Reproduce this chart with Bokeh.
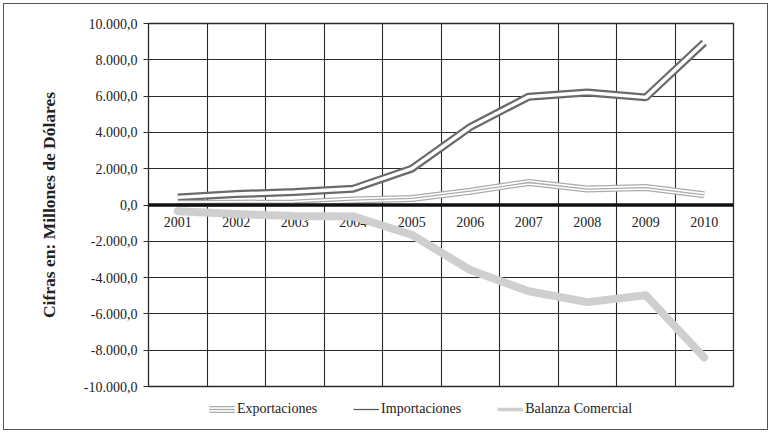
from bokeh.plotting import figure
from bokeh.models import (FixedTicker, Span, Legend, LegendItem, ColumnDataSource)
from bokeh.layouts import column
from bokeh.core.properties import value
from bokeh.embed import file_html
from bokeh.resources import INLINE

years = [2001, 2002, 2003, 2004, 2005, 2006, 2007, 2008, 2009, 2010]
exportaciones = [80, 100, 110, 270, 360, 760, 1240, 880, 960, 560]
importaciones = [420, 600, 720, 900, 2000, 4300, 5970, 6200, 5930, 8950]
balanza = [-340, -500, -610, -630, -1640, -3580, -4750, -5350, -4970, -8400]
y_ticks = [-10000, -8000, -6000, -4000, -2000, 0, 2000, 4000, 6000, 8000, 10000]
y_tick_labels = ["-10.000,0", "-8.000,0", "-6.000,0", "-4.000,0", "-2.000,0", "0,0",
                 "2.000,0", "4.000,0", "6.000,0", "8.000,0", "10.000,0"]
year_labels = [str(y) for y in years]

FONT = "Liberation Serif"
GRID = "#2a2a2a"

p = figure(width=763, height=392, output_backend="svg", toolbar_location=None,
           x_range=(2000.5, 2010.5), y_range=(-10000, 10000),
           min_border_left=144, min_border_top=19, min_border_right=34, min_border_bottom=10,
           background_fill_color="white", border_fill_color="white")
p.outline_line_color = GRID
p.outline_line_width = 1.3

p.xaxis.visible = False
p.xgrid.ticker = FixedTicker(ticks=[y - 0.5 for y in years] + [years[-1] + 0.5])
p.xgrid.grid_line_color = GRID
p.xgrid.grid_line_width = 1.1

p.yaxis.ticker = FixedTicker(ticks=y_ticks)
p.yaxis.major_label_overrides = {t: l for t, l in zip(y_ticks, y_tick_labels)}
p.yaxis.axis_line_color = GRID
p.yaxis.major_tick_line_color = GRID
p.yaxis.major_tick_out = 5
p.yaxis.major_tick_in = 0
p.yaxis.minor_tick_line_color = None
p.yaxis.major_label_text_font = FONT
p.yaxis.major_label_text_font_size = "14px"
p.yaxis.major_label_text_color = "#222"
p.yaxis.major_label_standoff = 6
p.yaxis.axis_label = "Cifras en: Millones de Dólares"
p.yaxis.axis_label_text_font = FONT
p.yaxis.axis_label_text_font_style = "bold"
p.yaxis.axis_label_text_font_size = "17.5px"
p.yaxis.axis_label_text_color = "#222"
p.yaxis.axis_label_standoff = 22
p.ygrid.ticker = FixedTicker(ticks=y_ticks)
p.ygrid.grid_line_color = GRID
p.ygrid.grid_line_width = 1.1

src = ColumnDataSource(dict(x=years, exp=exportaciones, imp=importaciones, bal=balanza,
                            lab=year_labels, zero=[0] * len(years)))

p.text(x="x", y="zero", text="lab", source=src, text_font=value(FONT),
       text_font_size="14px", text_color="#222", text_align="center",
       text_baseline="middle", y_offset=17)

p.add_layout(Span(location=0, dimension="width", line_color="#111", line_width=3.5))

p.line("x", "bal", source=src, line_color="#cfcfcf", line_width=8, line_join="round", line_cap="round")

p.line("x", "imp", source=src, line_color="#6a6a6a", line_width=8)
p.line("x", "imp", source=src, line_color="white", line_width=3.5)

p.line("x", "exp", source=src, line_color="#ababab", line_width=7)
p.line("x", "exp", source=src, line_color="white", line_width=4.5)
p.line("x", "exp", source=src, line_color="#ababab", line_width=1.3)

# legend strip
lg = figure(width=763, height=33, output_backend="svg", toolbar_location=None,
            x_range=(0, 1), y_range=(1e6, 1e6 + 1),
            min_border_left=0, min_border_right=0, min_border_top=0, min_border_bottom=0,
            background_fill_color="white", border_fill_color="white")
lg.outline_line_color = None
lg.axis.visible = False
lg.grid.visible = False

e1 = lg.line("x", "exp", source=src, line_color="#ababab", line_width=7)
e2 = lg.line("x", "exp", source=src, line_color="white", line_width=4.5)
e3 = lg.line("x", "exp", source=src, line_color="#ababab", line_width=1.3)
i1 = lg.line("x", "imp", source=src, line_color="#555", line_width=1.2)
b1 = lg.line("x", "bal", source=src, line_color="#cfcfcf", line_width=3.5)

legend = Legend(items=[
    LegendItem(label="Exportaciones", renderers=[e1, e2, e3]),
    LegendItem(label="Importaciones", renderers=[i1]),
    LegendItem(label="Balanza Comercial", renderers=[b1]),
], orientation="horizontal", location=(61, 10))
legend.border_line_color = None
legend.background_fill_alpha = 0
legend.label_text_font = FONT
legend.label_text_font_size = "14px"
legend.label_text_color = "#222"
legend.glyph_width = 26
legend.label_standoff = 2
legend.spacing = 36
legend.padding = 4
legend.margin = 0
lg.add_layout(legend, "center")

layout = column(p, lg, spacing=0,
                styles={"border": "1.5px solid #555", "margin": "3px 0 0 3px"})

open("out.html", "w").write(file_html(layout, INLINE))
